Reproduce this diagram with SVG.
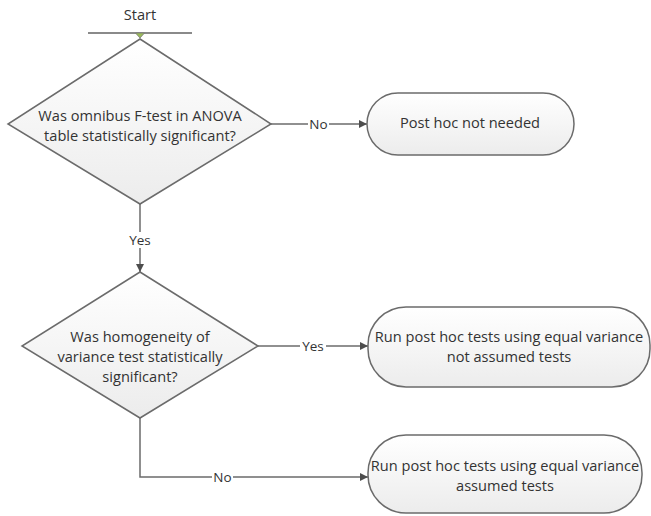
<svg xmlns="http://www.w3.org/2000/svg" width="651" height="516" viewBox="0 0 651 516">
  <style>
    .shape { fill: url(#g); stroke: #6b6b6b; stroke-width: 1.5; }
    .t { font-family: "Open Sans", "Noto Sans", sans-serif; font-size: 14.6px; fill: #333333; text-anchor: middle; }
    .lbl { font-family: "Open Sans", "Noto Sans", sans-serif; font-size: 13.5px; fill: #333333; text-anchor: middle; }
    .conn { fill: none; stroke: #6b6b6b; stroke-width: 1.5; }
    .bg { fill: #ffffff; }
  </style>
  <defs>
    <linearGradient id="g" x1="0" y1="0" x2="0" y2="1">
      <stop offset="0" stop-color="#ffffff"/>
      <stop offset="1" stop-color="#ececec"/>
    </linearGradient>
    <marker id="arr" viewBox="0 0 10 10" refX="10" refY="5" markerWidth="8" markerHeight="8" markerUnits="userSpaceOnUse" orient="auto">
      <path d="M0,0 L10,5 L0,10 z" fill="#4d4d4d"/>
    </marker>
  </defs>

  <g id="start">
    <text class="t" x="140" y="20">Start</text>
    <line x1="88" y1="33" x2="192" y2="33" stroke="#8a8a8a" stroke-width="2"/>
    <path d="M135.5,33 L144.5,33 L140,38 z" fill="#9bbb59" stroke="#7a7a7a" stroke-width="0.8"/>
  </g>

  <g id="connectors">
    <line class="conn" x1="271" y1="124" x2="367" y2="124" marker-end="url(#arr)"/>
    <rect class="bg" x="308" y="116" width="21" height="16"/>
    <text class="lbl" x="318.5" y="128.5">No</text>

    <line class="conn" x1="140" y1="204" x2="140" y2="272" marker-end="url(#arr)"/>
    <rect class="bg" x="127" y="232" width="26" height="16"/>
    <text class="lbl" x="140" y="245">Yes</text>

    <line class="conn" x1="258" y1="346" x2="368" y2="346" marker-end="url(#arr)"/>
    <rect class="bg" x="300" y="338" width="26" height="16"/>
    <text class="lbl" x="313" y="351">Yes</text>

    <polyline class="conn" points="140,418 140,477 368,477" marker-end="url(#arr)"/>
    <rect class="bg" x="212" y="469" width="21" height="16"/>
    <text class="lbl" x="222.5" y="482">No</text>
  </g>

  <g id="decision1">
    <polygon class="shape" points="140,39 271,124 140,204 8,124"/>
    <text class="t" x="140" y="120.5">Was omnibus F-test in ANOVA</text>
    <text class="t" x="140" y="140.5">table statistically significant?</text>
  </g>

  <g id="end-not-needed">
    <rect class="shape" x="367" y="93" width="207" height="62" rx="31" ry="31"/>
    <text class="t" x="470" y="128">Post hoc not needed</text>
  </g>

  <g id="decision2">
    <polygon class="shape" points="140,272 258,346 140,418 22,346"/>
    <text class="t" x="140" y="341.5">Was homogeneity of</text>
    <text class="t" x="140" y="361.5">variance test statistically</text>
    <text class="t" x="140" y="381.5">significant?</text>
  </g>

  <g id="end-not-assumed">
    <rect class="shape" x="368" y="307" width="282" height="80" rx="38" ry="38"/>
    <text class="t" x="509" y="341.5">Run post hoc tests using equal variance</text>
    <text class="t" x="509" y="361.5">not assumed tests</text>
  </g>

  <g id="end-assumed">
    <rect class="shape" x="368" y="435" width="274" height="78" rx="38" ry="38"/>
    <text class="t" x="505" y="470.5">Run post hoc tests using equal variance</text>
    <text class="t" x="505" y="490.5">assumed tests</text>
  </g>
</svg>
